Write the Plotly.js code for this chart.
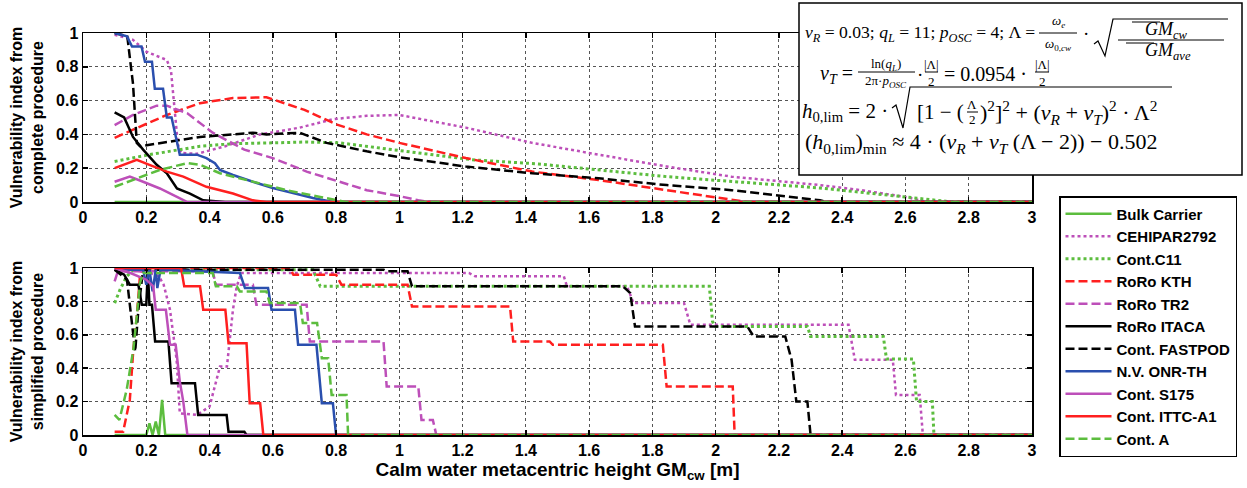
<!DOCTYPE html>
<html>
<head>
<meta charset="utf-8">
<script src="https://cdn.plot.ly/plotly-3.0.1.min.js"></script>
<style>html,body{margin:0;padding:0;background:#fff;}#chart{width:1247px;height:488px;}</style>
</head>
<body>
<div id="chart"></div>
<script>
// ---------- DATA ----------
const seriesNames = ['Bulk Carrier','CEHIPAR2792','Cont.C11','RoRo KTH','RoRo TR2','RoRo ITACA','Cont. FASTPOD','N.V. ONR-TH','Cont. S175','Cont. ITTC-A1','Cont. A'];

// complete procedure (top)
const bulkTopX = [0.10, 3.0];
const bulkTopY = [0, 0];
const cehiparTopX = [0.10, 0.158, 0.20, 0.265, 0.278, 0.29, 0.30, 0.31, 0.36, 0.45, 0.56, 0.685, 0.79, 0.897, 1.0, 1.21, 1.42, 1.63, 1.845, 2.05, 2.33, 2.46, 2.60, 2.645, 2.67, 3.0];
const cehiparTopY = [0.99, 0.96, 0.89, 0.84, 0.78, 0.55, 0.34, 0.29, 0.285, 0.33, 0.40, 0.44, 0.49, 0.51, 0.515, 0.44, 0.35, 0.28, 0.21, 0.15, 0.10, 0.07, 0.03, 0.01, 0, 0];
const c11TopX = [0.10, 0.21, 0.37, 0.474, 0.60, 0.707, 0.81, 1.0, 1.23, 1.44, 1.845, 2.33, 2.54, 2.645, 2.75, 3.0];
const c11TopY = [0.24, 0.28, 0.33, 0.345, 0.35, 0.355, 0.35, 0.305, 0.25, 0.225, 0.15, 0.083, 0.04, 0.02, 0, 0];
const kthTopX = [0.10, 0.265, 0.37, 0.474, 0.58, 0.70, 0.80, 0.897, 1.0, 1.21, 1.42, 1.63, 1.845, 2.0, 2.1, 3.0];
const kthTopY = [0.38, 0.515, 0.585, 0.615, 0.62, 0.545, 0.46, 0.40, 0.35, 0.26, 0.18, 0.13, 0.07, 0.03, 0, 0];
const tr2TopX = [0.10, 0.158, 0.233, 0.265, 0.33, 0.41, 0.51, 0.60, 0.707, 0.81, 0.897, 1.0, 1.06, 1.1, 3.0];
const tr2TopY = [0.455, 0.515, 0.57, 0.57, 0.525, 0.41, 0.31, 0.26, 0.18, 0.12, 0.07, 0.035, 0.01, 0, 0];
const itacaTopX = [0.10, 0.13, 0.158, 0.19, 0.233, 0.265, 0.297, 0.338, 0.38, 0.45, 3.0];
const itacaTopY = [0.53, 0.50, 0.385, 0.31, 0.22, 0.17, 0.08, 0.05, 0.01, 0, 0];
const fastpodTopX = [0.10, 0.14, 0.158, 0.17, 0.18, 0.265, 0.37, 0.474, 0.537, 0.58, 0.685, 0.77, 0.897, 1.0, 1.21, 1.42, 1.63, 1.845, 2.05, 2.33, 2.35, 3.0];
const fastpodTopY = [1.0, 0.98, 0.70, 0.35, 0.33, 0.355, 0.385, 0.40, 0.41, 0.40, 0.41, 0.35, 0.30, 0.265, 0.21, 0.17, 0.14, 0.10, 0.07, 0.01, 0, 0];
const onrTopX = [0.10, 0.139, 0.155, 0.185, 0.196, 0.218, 0.227, 0.253, 0.265, 0.28, 0.306, 0.36, 0.39, 0.417, 0.433, 0.474, 0.537, 0.60, 0.664, 0.727, 0.79, 3.0];
const onrTopY = [1.0, 0.98, 0.92, 0.92, 0.83, 0.83, 0.67, 0.67, 0.50, 0.50, 0.28, 0.28, 0.26, 0.23, 0.19, 0.16, 0.12, 0.083, 0.053, 0.024, 0, 0];
const s175TopX = [0.10, 0.148, 0.19, 0.243, 0.297, 0.33, 3.0];
const s175TopY = [0.12, 0.15, 0.12, 0.08, 0.03, 0, 0];
const ittcTopX = [0.10, 0.17, 0.21, 0.265, 0.317, 0.39, 0.474, 0.537, 0.58, 3.0];
const ittcTopY = [0.20, 0.25, 0.22, 0.18, 0.15, 0.09, 0.05, 0.01, 0, 0];
const contATopX = [0.10, 0.158, 0.243, 0.33, 0.37, 0.433, 0.537, 0.643, 0.75, 0.83, 3.0];
const contATopY = [0.09, 0.13, 0.19, 0.23, 0.22, 0.17, 0.12, 0.07, 0.03, 0, 0];

// simplified procedure (bottom)
const bulkBotX = [0.10, 0.20, 0.21, 0.22, 0.23, 0.24, 0.25, 0.26, 3.0];
const bulkBotY = [0, 0, 0.07, 0, 0.08, 0, 0.21, 0, 0];
const cehiparBotX = [0.10, 0.20, 0.24, 0.255, 0.275, 0.296, 0.306, 0.36, 0.40, 0.417, 0.433, 0.455, 0.474, 0.486, 0.50, 1.0, 1.22, 1.24, 1.52, 1.53, 1.72, 1.74, 1.90, 1.92, 2.42, 2.44, 2.56, 2.57, 2.645, 2.655, 3.0];
const cehiparBotY = [0.99, 0.98, 0.95, 0.90, 0.75, 0.45, 0.13, 0.12, 0.17, 0.29, 0.41, 0.41, 0.75, 0.89, 0.97, 0.97, 0.97, 0.95, 0.95, 0.89, 0.89, 0.79, 0.79, 0.66, 0.66, 0.45, 0.45, 0.24, 0.24, 0, 0];
const c11BotX = [0.10, 0.117, 0.138, 0.16, 0.727, 0.74, 0.75, 1.98, 1.99, 2.0, 2.29, 2.30, 2.53, 2.54, 2.625, 2.635, 2.685, 2.69, 3.0];
const c11BotY = [0.79, 0.87, 0.95, 0.99, 0.99, 0.93, 0.89, 0.89, 0.68, 0.65, 0.65, 0.59, 0.59, 0.455, 0.455, 0.20, 0.20, 0, 0];
const kthBotX = [0.10, 0.127, 0.148, 0.159, 0.17, 0.18, 0.19, 0.654, 0.665, 0.80, 0.817, 1.026, 1.04, 1.35, 1.36, 1.475, 1.485, 1.833, 1.845, 2.054, 2.06, 3.0];
const kthBotY = [0.02, 0.02, 0.21, 0.51, 0.71, 0.95, 1.0, 1.0, 0.96, 0.96, 0.90, 0.90, 0.77, 0.77, 0.56, 0.56, 0.54, 0.54, 0.29, 0.29, 0, 0];
const tr2BotX = [0.10, 0.11, 0.41, 0.42, 0.537, 0.548, 0.707, 0.717, 0.95, 0.96, 1.06, 1.07, 1.106, 1.117, 3.0];
const tr2BotY = [0.92, 0.98, 0.98, 0.90, 0.90, 0.78, 0.78, 0.56, 0.56, 0.29, 0.29, 0.09, 0.09, 0, 0];
const itacaBotX = [0.10, 0.13, 0.148, 0.175, 0.186, 0.20, 0.205, 0.21, 0.218, 0.228, 0.27, 0.28, 0.354, 0.364, 0.454, 0.46, 0.51, 0.517, 3.0];
const itacaBotY = [0.99, 0.96, 0.90, 0.90, 0.78, 0.78, 0.98, 0.78, 0.78, 0.56, 0.56, 0.31, 0.31, 0.12, 0.12, 0.02, 0.02, 0, 0];
const fastpodBotX = [0.10, 0.139, 0.165, 0.175, 0.19, 0.95, 0.96, 1.026, 1.04, 1.707, 1.73, 1.745, 2.10, 2.12, 2.22, 2.24, 2.255, 2.29, 2.30, 3.0];
const fastpodBotY = [0.99, 0.93, 0.50, 0.75, 0.99, 0.99, 0.98, 0.98, 0.89, 0.89, 0.85, 0.65, 0.65, 0.59, 0.59, 0.45, 0.20, 0.20, 0, 0];
const onrBotX = [0.10, 0.15, 0.19, 0.20, 0.21, 0.22, 0.23, 0.235, 0.245, 0.496, 0.512, 0.585, 0.596, 0.67, 0.68, 0.738, 0.755, 0.79, 0.80, 3.0];
const onrBotY = [1.0, 0.99, 0.99, 0.90, 0.99, 0.86, 0.99, 0.88, 0.99, 0.97, 0.88, 0.88, 0.75, 0.75, 0.54, 0.54, 0.19, 0.19, 0, 0];
const s175BotX = [0.10, 0.15, 0.20, 0.222, 0.23, 0.262, 0.275, 0.293, 0.306, 0.317, 0.33, 3.0];
const s175BotY = [1.0, 0.97, 0.93, 0.89, 0.75, 0.75, 0.54, 0.54, 0.32, 0.20, 0, 0];
const ittcBotX = [0.10, 0.31, 0.32, 0.37, 0.38, 0.45, 0.46, 0.517, 0.527, 0.56, 0.57, 3.0];
const ittcBotY = [1.0, 1.0, 0.89, 0.89, 0.75, 0.75, 0.55, 0.55, 0.19, 0.19, 0, 0];
const contABotX = [0.10, 0.115, 0.138, 0.159, 0.17, 0.18, 0.19, 0.41, 0.42, 0.486, 0.496, 0.58, 0.59, 0.686, 0.695, 0.74, 0.755, 0.775, 0.786, 0.833, 0.838, 3.0];
const contABotY = [0.12, 0.09, 0.27, 0.51, 0.71, 0.91, 0.97, 0.97, 0.89, 0.89, 0.86, 0.86, 0.79, 0.79, 0.67, 0.67, 0.46, 0.46, 0.24, 0.24, 0, 0];

const xTicks = [0, 0.2, 0.4, 0.6, 0.8, 1, 1.2, 1.4, 1.6, 1.8, 2, 2.2, 2.4, 2.6, 2.8, 3];
const yTicks = [0, 0.2, 0.4, 0.6, 0.8, 1];

// ---------- STYLES ----------
const GREEN = '#5cbd3e', MAGENTA = '#bd4fb9', RED = '#ff1f1f', BLUE = '#2a4fae', BLACK = '#000000';
const DASH = '9px,4px', DOT = '3px,3px';
const styles = [
  {color: GREEN, dash: 'solid', width: 2.5},
  {color: MAGENTA, dash: DOT, width: 2.5},
  {color: GREEN, dash: DOT, width: 3},
  {color: RED, dash: DASH, width: 2.5},
  {color: MAGENTA, dash: DASH, width: 2.5},
  {color: BLACK, dash: 'solid', width: 2.5},
  {color: BLACK, dash: DASH, width: 2.5},
  {color: BLUE, dash: 'solid', width: 2.5},
  {color: MAGENTA, dash: 'solid', width: 2.5},
  {color: RED, dash: 'solid', width: 2.5},
  {color: GREEN, dash: DASH, width: 2.5}
];
const topData = [[bulkTopX,bulkTopY],[cehiparTopX,cehiparTopY],[c11TopX,c11TopY],[kthTopX,kthTopY],[tr2TopX,tr2TopY],[itacaTopX,itacaTopY],[fastpodTopX,fastpodTopY],[onrTopX,onrTopY],[s175TopX,s175TopY],[ittcTopX,ittcTopY],[contATopX,contATopY]];
const botData = [[bulkBotX,bulkBotY],[cehiparBotX,cehiparBotY],[c11BotX,c11BotY],[kthBotX,kthBotY],[tr2BotX,tr2BotY],[itacaBotX,itacaBotY],[fastpodBotX,fastpodBotY],[onrBotX,onrBotY],[s175BotX,s175BotY],[ittcBotX,ittcBotY],[contABotX,contABotY]];

const traces = [];
seriesNames.forEach((n, i) => {
  traces.push({x: topData[i][0], y: topData[i][1], name: n, type: 'scatter', mode: 'lines',
    line: Object.assign({}, styles[i]), xaxis: 'x', yaxis: 'y', cliponaxis: false});
});
seriesNames.forEach((n, i) => {
  traces.push({x: botData[i][0], y: botData[i][1], name: n, type: 'scatter', mode: 'lines',
    line: Object.assign({}, styles[i]), xaxis: 'x2', yaxis: 'y2', showlegend: false, cliponaxis: false});
});

// ---------- LAYOUT ----------
const W = 1247, HH = 488;
const L = 83, R = 1032, TOP = 33, BOT = 435;
const PX = x => (x - L) / (R - L);
const PY = y => (BOT - y) / (BOT - TOP);
const SANS = 'Liberation Sans, Arial, sans-serif';
const TF = {family: SANS, size: 16, color: '#000', weight: 'bold'};

function xax(anchor, title) {
  const a = {domain: [0, 1], range: [0, 3], tickvals: xTicks, ticks: 'inside', ticklen: 5, tickwidth: 1.5,
    tickcolor: '#000', showline: true, linecolor: '#000', linewidth: 1.5, mirror: 'ticks',
    showgrid: true, gridcolor: '#555', griddash: 'dot', gridwidth: 1, zeroline: false,
    tickfont: TF, anchor: anchor, automargin: false, fixedrange: true};
  if (title) a.title = {text: title, font: {family: SANS, size: 19, color: '#000', weight: 'bold'}, standoff: 2};
  return a;
}
function yax(domain, anchor, title) {
  return {domain: domain, range: [0, 1], tickvals: yTicks, ticks: 'inside', ticklen: 5, tickwidth: 1.5,
    tickcolor: '#000', showline: true, linecolor: '#000', linewidth: 1.5, mirror: 'ticks',
    showgrid: true, gridcolor: '#555', griddash: 'dot', gridwidth: 1, zeroline: false,
    tickfont: TF, anchor: anchor, automargin: false, fixedrange: true,
    title: {text: title, font: {family: SANS, size: 16, color: '#000', weight: 'bold'}, standoff: 8}};
}

const SERIF = 'Liberation Serif, Times New Roman, serif';
function txt(text, x, y, size, anchor) {
  return {text: text, xref: 'paper', yref: 'paper', x: PX(x), y: PY(y), xanchor: anchor || 'left', yanchor: 'middle',
    showarrow: false, font: {family: SERIF, size: size || 19, color: '#000'}};
}
function hline(x0, x1, y, w) {
  return {type: 'line', xref: 'paper', yref: 'paper', x0: PX(x0), x1: PX(x1), y0: PY(y), y1: PY(y), layer: 'above',
    line: {color: '#000', width: w || 1}};
}
function pathShape(pts, w) {
  const d = pts.map((p, k) => (k ? 'L' : 'M') + PX(p[0]).toFixed(5) + ',' + PY(p[1]).toFixed(5)).join(' ');
  return {type: 'path', xref: 'paper', yref: 'paper', path: d, layer: 'above', line: {color: '#000', width: w || 1.2}};
}

const shapes = [
  {type: 'rect', xref: 'paper', yref: 'paper', x0: PX(799), x1: PX(1242), y0: PY(175), y1: PY(3), layer: 'above',
   fillcolor: '#fff', line: {color: '#000', width: 1.5}},
  // fraction bars, radicals and overlines of the formula box
  hline(1039, 1077, 33), hline(1118, 1224, 40),
  hline(1132, 1160, 22), hline(1126, 1154, 43),
  pathShape([[1094, 44], [1098, 41], [1105, 56], [1113, 19], [1228, 19]]),
  hline(858, 915, 72), hline(925, 938, 72), hline(1035, 1049, 72),
  pathShape([[892, 108], [896, 105], [903, 128], [910, 87], [1172, 87]]),
  hline(967, 978, 112)
];

const annotations = [
  txt('<i>ν</i><sub><i>R</i></sub> = 0.03; <i>q</i><sub><i>L</i></sub> = 11; <i>p</i><sub><i>OSC</i></sub> = 4; Λ =', 1037, 33, 17.6, 'right'),
  txt('<i>ω</i><sub><i>e</i></sub>', 1058, 22, 13, 'center'),
  txt('<i>ω</i><sub>0,<i>cw</i></sub>', 1058, 45, 13, 'center'),
  txt('·', 1086, 33, 19, 'center'),
  txt('<i>GM</i><sub><i>cw</i></sub>', 1166, 30, 18, 'center'),
  txt('<i>GM</i><sub><i>ave</i></sub>', 1168, 51, 18, 'center'),
  txt('<i>ν</i><sub><i>T</i></sub> =', 855, 74, 20, 'right'),
  txt('ln(<i>q</i><sub><i>L</i></sub>)', 886, 64, 13, 'center'),
  txt('2π·<i>p</i><sub><i>OSC</i></sub>', 886, 81, 13, 'center'),
  txt('·', 920, 74, 19, 'center'),
  txt('|Λ|', 931, 64, 13, 'center'),
  txt('2', 931, 81, 13, 'center'),
  txt('= 0.0954 ·', 942, 74, 20),
  txt('|Λ|', 1042, 64, 13, 'center'),
  txt('2', 1042, 81, 13, 'center'),
  txt('<i>h</i><sub>0,lim</sub> = 2 ·', 890, 112, 21, 'right'),
  txt('[1 − (', 966, 112, 21, 'right'),
  txt('Λ', 972, 104, 13, 'center'),
  txt('2', 972, 120, 13, 'center'),
  txt(')<sup>2</sup>]<sup>2</sup> + (<i>ν</i><sub><i>R</i></sub> + <i>ν</i><sub><i>T</i></sub>)<sup>2</sup> · Λ<sup>2</sup>', 978, 112, 22),
  txt('(<i>h</i><sub>0,lim</sub>)<sub>min</sub> ≈ 4 · (<i>ν</i><sub><i>R</i></sub> + <i>ν</i><sub><i>T</i></sub> (Λ − 2)) − 0.502', 803, 143, 22)
];

const layout = {
  width: W, height: HH,
  margin: {l: L, r: W - R, t: TOP, b: HH - BOT, pad: 0},
  paper_bgcolor: '#fff', plot_bgcolor: '#fff',
  showlegend: true,
  legend: {xref: 'container', yref: 'container', x: 1059 / W, y: (HH - 196) / HH, xanchor: 'left', yanchor: 'top',
    maxheight: 290,
    bgcolor: '#fff', bordercolor: '#000', borderwidth: 1.5,
    font: {family: SANS, size: 15, color: '#000', weight: 'bold'}, itemwidth: 46, tracegroupgap: 0, traceorder: 'normal'},
  xaxis: xax('y'),
  yaxis: yax([PY(202), 1], 'x', 'Vulnerability index from<br>complete procedure'),
  xaxis2: xax('y2', 'Calm water metacentric height GM<sub>cw</sub> [m]'),
  yaxis2: yax([0, PY(268)], 'x2', 'Vulnerability index from<br>simplified procedure'),
  shapes: shapes,
  annotations: annotations
};

Plotly.newPlot('chart', traces, layout, {staticPlot: true, displayModeBar: false});
</script>
</body>
</html>
